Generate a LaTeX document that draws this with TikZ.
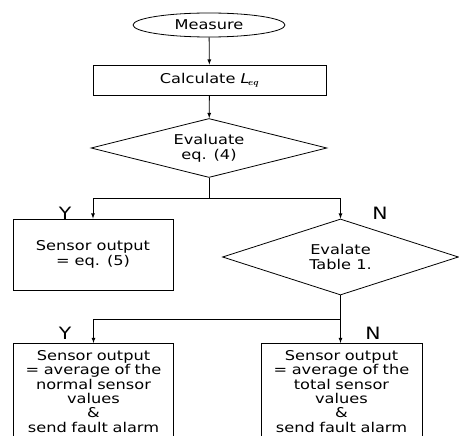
\documentclass[tikz,border=0pt]{standalone}
\usepackage{amsmath}
\usepackage{fontspec}
\setmainfont{DejaVu Sans}[FakeStretch=1.2]
\usetikzlibrary{shapes.geometric}
\tikzset{
	startstop/.style={draw, ellipse, minimum width=152pt, minimum height=24pt, inner sep=0pt},
	process/.style={draw, rectangle, text centered, align=center, inner sep=0pt},
	decision/.style={draw, diamond, aspect=4, inner sep=0pt, text centered, align=center},
	result/.style={process, anchor=north, minimum height=96pt, font=\fontsize{13.5}{14.4}\selectfont},
	yesno/.style={font=\fontsize{17}{17}\selectfont},
	flow/.style={-latex}
}
\begin{document}
\begin{tikzpicture}[x=1pt, y=-1pt, line width=0.8pt, font=\fontsize{13.5}{15}\selectfont]
		
		\useasboundingbox (0,0) rectangle (459,436);
		\clip (0,0) rectangle (459,436);
		
		%Nodes
		\node (measure) at (209,25) [startstop]{Measure};
		\node (calcLeq) at (209.5,80) [process, minimum width=233pt, minimum height=30pt]{Calculate $\mathit{L}_{\boldsymbol{eq}}$};
		\node (evalEq) at (209,148) [decision, minimum width=236pt, minimum height=59pt]{Evaluate\\eq. (4)};
		
		%Ramo sinistro e destro
		\node (outEq) at (93,254.5) [process, minimum width=160pt, minimum height=71pt]{Sensor output\\= eq. (5)};
		\node (evalTable) at (340.5,257) [decision, minimum width=236pt, minimum height=76pt]{Evalate\\Table 1.};
		
		%Blocchi finali
		\node (outNormal) at (93.5,343) [result, text width=160pt]{Sensor output\\= average of the\\normal sensor\\values\\\&\\send fault alarm};
		\node (outTotal) at (341.5,343) [result, text width=161pt]{Sensor output\\= average of the\\total sensor\\values\\\&\\send fault alarm};
		
		%Labels
		\node (yesA) at (65,213) [yesno]{Y};
		\node (noA) at (380,213) [yesno]{N};
		\node (yesB) at (65,333) [yesno]{Y};
		\node (noB) at (373,333) [yesno]{N};
		
		%Links
		\coordinate (splitA) at (209,198);
		\coordinate (splitB) at (340.5,319);
		\draw[flow] (measure) -- (calcLeq);
		\draw[flow] (calcLeq) -- (evalEq);
		\draw (evalEq.south) -- (splitA);
		\draw[flow] (splitA) -| (outEq.north);
		\draw[flow] (splitA) -| (evalTable.north);
		\draw (evalTable.south) -- (splitB);
		\draw[flow] (splitB) -| (outNormal.north);
		\draw[flow] (splitB) -- (outTotal.north -| splitB);
		
\end{tikzpicture}
\end{document}
